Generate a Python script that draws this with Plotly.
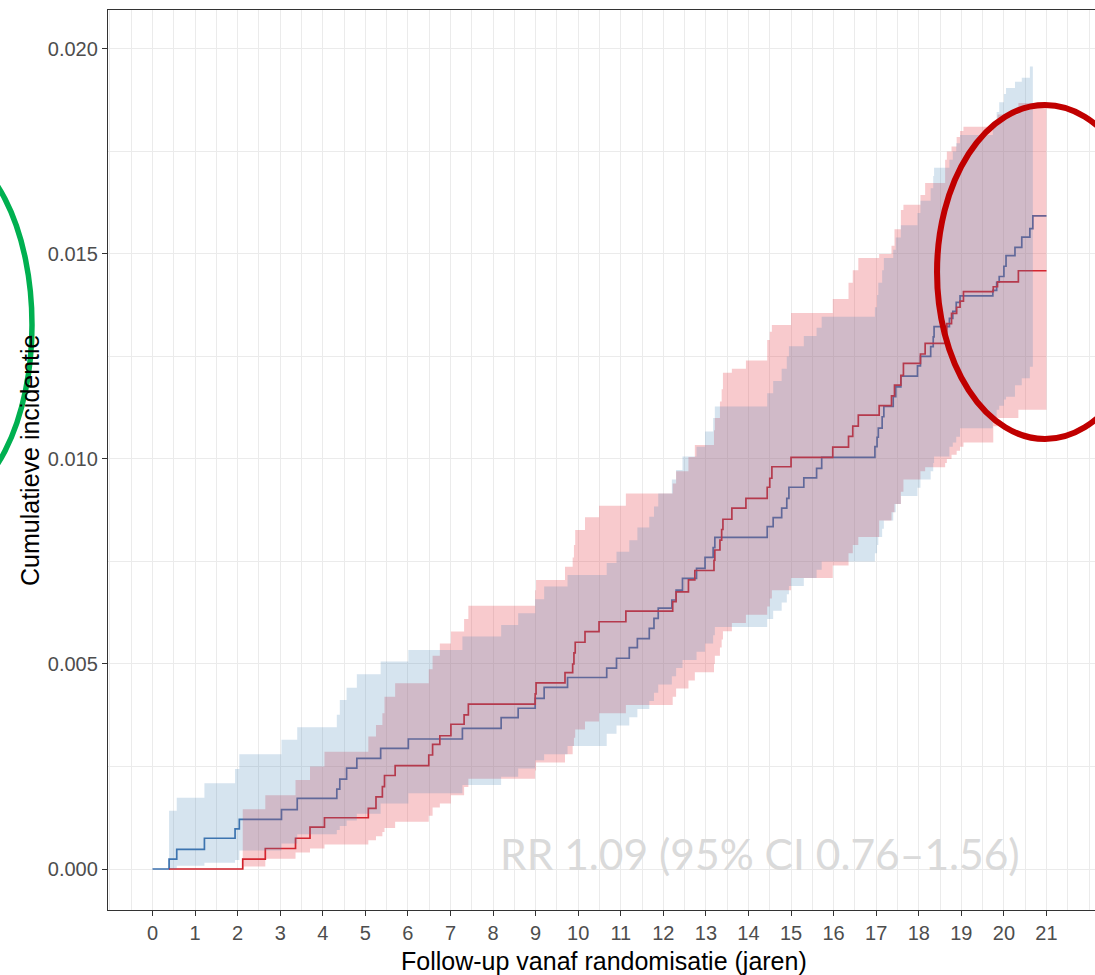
import plotly.graph_objects as go

# ---- blue group: event times, cumulative incidence and 95% band ----
blue_time = [0, 0.39, 0.57, 1.22, 1.94, 2.04, 3.03, 3.40, 4.33, 4.40, 4.56, 4.80, 5.36, 6.01,
             7.28, 8.19, 8.59, 8.99, 9.20, 9.75, 10.67, 10.90, 11.20, 11.39, 11.67, 11.78, 11.88,
             12.20, 12.30, 12.45, 12.78, 12.98, 13.17, 13.21, 14.44, 14.58, 14.78, 14.90, 14.95,
             15.30, 15.60, 15.72, 16.97, 17.02, 17.05, 17.14, 17.18, 17.40, 17.46, 17.58, 17.97,
             18.04, 18.28, 18.34, 18.36, 18.72, 18.80, 18.88, 18.97, 19.74, 19.83, 19.89, 20.00,
             20.05, 20.26, 20.42, 20.61, 20.68]
blue_est = [0, 0.00024, 0.00048, 0.00075, 0.00098, 0.00121, 0.00145, 0.00172, 0.00195, 0.00219,
            0.00246, 0.0027, 0.00294, 0.00317, 0.00343, 0.00369, 0.00392, 0.00416, 0.00443,
            0.00467, 0.0049, 0.00514, 0.0054, 0.00562, 0.00587, 0.00611, 0.00636, 0.00656, 0.0068,
            0.00709, 0.00733, 0.0076, 0.00784, 0.00809, 0.00835, 0.00857, 0.0088, 0.00904, 0.00931,
            0.00954, 0.00977, 0.01004, 0.0103, 0.01053, 0.01075, 0.01103, 0.01128, 0.01152,
            0.01176, 0.01202, 0.01227, 0.0125, 0.01274, 0.01298, 0.01323, 0.01343, 0.0136,
            0.01382, 0.01398, 0.01411, 0.01431, 0.01445, 0.0147, 0.01496, 0.01516, 0.01541,
            0.01562, 0.01593]
blue_upper = [0, 0.00142, 0.00174, 0.00209, 0.00244, 0.0028, 0.00315, 0.00346, 0.00376, 0.00412,
              0.00442, 0.00475, 0.00506, 0.00534, 0.00567, 0.00595, 0.00624, 0.00658, 0.00689,
              0.00717, 0.00746, 0.00774, 0.00802, 0.00833, 0.00859, 0.00884, 0.00916, 0.0095,
              0.00973, 0.01006, 0.0103, 0.01067, 0.011, 0.01128, 0.0116, 0.0119, 0.0122, 0.0125,
              0.01275, 0.013, 0.0132, 0.01347, 0.0137, 0.014, 0.0143, 0.0146, 0.0149, 0.0151,
              0.0154, 0.0157, 0.016, 0.0163, 0.0166, 0.0169, 0.0171, 0.0173, 0.0175, 0.0177,
              0.0179, 0.0181, 0.01846, 0.0187, 0.0189, 0.01905, 0.0192, 0.0193, 0.01957, 0.0198]
blue_lower = [0, 0.0, 0.00008, 0.00015, 0.00022, 0.00045, 0.00062, 0.00085, 0.00095, 0.00105,
              0.00118, 0.00135, 0.0016, 0.00185, 0.00205, 0.00225, 0.00245, 0.00265, 0.0028,
              0.003, 0.0033, 0.0035, 0.0037, 0.0039, 0.0041, 0.0043, 0.0045, 0.0047, 0.0049,
              0.0051, 0.0053, 0.0055, 0.0057, 0.0059, 0.0061, 0.0063, 0.0065, 0.0067, 0.0069,
              0.0071, 0.0073, 0.0075, 0.0077, 0.0079, 0.0081, 0.0083, 0.0085, 0.0087, 0.0089,
              0.0091, 0.0093, 0.0095, 0.0097, 0.0099, 0.01006, 0.0103, 0.0104, 0.01054, 0.01075,
              0.0109, 0.0112, 0.0113, 0.01145, 0.01152, 0.0118, 0.01197, 0.01225, 0.0123]
blue_line_end = 21.0
blue_band_end = 20.68

# ---- red group ----
red_time = [0.39, 2.12, 2.65, 3.36, 3.70, 4.04, 5.07, 5.25, 5.40, 5.45, 5.70, 6.49, 6.58, 6.75,
            7.01, 7.32, 7.42, 8.99, 9.01, 9.69, 9.87, 9.90, 9.93, 10.16, 10.49, 11.12, 12.22,
            12.30, 12.59, 12.74, 13.19, 13.21, 13.33, 13.37, 13.40, 13.61, 13.94, 14.44, 14.50,
            14.55, 15.00, 15.98, 16.35, 16.45, 16.58, 17.07, 17.36, 17.43, 17.58, 17.64, 18.04,
            18.15, 18.62, 18.66, 18.77, 18.89, 18.97, 19.05, 19.75, 19.85, 20.34]
red_est = [0, 0.00024, 0.0005, 0.00075, 0.00102, 0.00125, 0.00148, 0.00176, 0.00201, 0.00228,
           0.00252, 0.00278, 0.00304, 0.00325, 0.00353, 0.00376, 0.00402, 0.00427, 0.00454,
           0.00479, 0.005, 0.00527, 0.00553, 0.00579, 0.00603, 0.00629, 0.00652, 0.00676,
           0.00705, 0.00728, 0.00753, 0.00778, 0.00802, 0.00828, 0.00853, 0.0088, 0.00904,
           0.00931, 0.00953, 0.00981, 0.01004, 0.01029, 0.01055, 0.0108, 0.01107, 0.0113,
           0.01154, 0.0118, 0.01204, 0.01233, 0.01256, 0.01282, 0.01305, 0.0133, 0.01355,
           0.0137, 0.01385, 0.01408, 0.0142, 0.01432, 0.01459]
red_upper = [0, 0.00146, 0.0018, 0.00217, 0.0025, 0.00286, 0.00323, 0.00351, 0.0038, 0.0042,
             0.00453, 0.00487, 0.0052, 0.0055, 0.00579, 0.0061, 0.00642, 0.0068, 0.00705,
             0.00737, 0.0076, 0.0079, 0.00827, 0.00858, 0.00886, 0.00916, 0.0094, 0.0097,
             0.01005, 0.01034, 0.0107, 0.011, 0.0114, 0.0117, 0.0121, 0.0122, 0.0124, 0.0129,
             0.0131, 0.01327, 0.01356, 0.0139, 0.0143, 0.0146, 0.0149, 0.015, 0.0152, 0.0156,
             0.01607, 0.0162, 0.01644, 0.01673, 0.0173, 0.0175, 0.01762, 0.01785, 0.018, 0.0181,
             0.0182, 0.0184, 0.01868]
red_lower = [0, 0.00006, 0.00025, 0.0004, 0.0005, 0.0006, 0.0007, 0.0008, 0.0009, 0.001,
             0.00115, 0.0013, 0.0015, 0.0016, 0.0018, 0.002, 0.0022, 0.0024, 0.0026, 0.0028,
             0.003, 0.0032, 0.0034, 0.0036, 0.0038, 0.004, 0.0042, 0.0044, 0.0046, 0.0048,
             0.005, 0.0052, 0.0054, 0.0056, 0.0058, 0.006, 0.0062, 0.0064, 0.0066, 0.0068,
             0.0071, 0.0074, 0.0077, 0.0079, 0.0081, 0.0085, 0.0087, 0.0089, 0.0092, 0.0095,
             0.0097, 0.0098, 0.0099, 0.01, 0.0101, 0.0102, 0.0103, 0.0104, 0.0108, 0.011, 0.0112]
red_line_end = 21.0
red_band_end = 21.0

x_ticks = list(range(0, 22))
y_ticks = [0.0, 0.005, 0.010, 0.015, 0.020]
y_tick_labels = ["0.000", "0.005", "0.010", "0.015", "0.020"]

x_title = "Follow-up vanaf randomisatie (jaren)"
y_title = "Cumulatieve incidentie"
rr_text = "RR 1.09 (95% CI 0.76\u20131.56)"

BLUE_LINE = "#3b70ae"
RED_LINE = "#cf1f28"
BLUE_FILL = "rgba(70,130,180,0.22)"
RED_FILL = "rgba(228,60,72,0.27)"


def steps(times, values, end):
    """Expand a right-continuous step function into explicit corner points."""
    xs, ys = [], []
    for i, (t, v) in enumerate(zip(times, values)):
        t_next = times[i + 1] if i + 1 < len(times) else end
        xs += [t, t_next]
        ys += [v, v]
    return xs, ys


def band(times, lower, upper, end):
    xu, yu = steps(times, upper, end)
    xl, yl = steps(times, lower, end)
    return xu + xl[::-1], yu + yl[::-1]


fig = go.Figure()

# step curves first, translucent confidence bands on top of them
fig.add_trace(go.Scatter(x=blue_time + [blue_line_end], y=blue_est + [blue_est[-1]],
                         mode="lines", line=dict(color=BLUE_LINE, width=1.7, shape="hv")))
fig.add_trace(go.Scatter(x=red_time + [red_line_end], y=red_est + [red_est[-1]],
                         mode="lines", line=dict(color=RED_LINE, width=1.7, shape="hv")))

rx, ry = band(red_time, red_lower, red_upper, red_band_end)
fig.add_trace(go.Scatter(x=rx, y=ry, fill="toself", fillcolor=RED_FILL,
                         line=dict(width=0), mode="lines", hoverinfo="skip"))
bx, by = band(blue_time, blue_lower, blue_upper, blue_band_end)
fig.add_trace(go.Scatter(x=bx, y=by, fill="toself", fillcolor=BLUE_FILL,
                         line=dict(width=0), mode="lines", hoverinfo="skip"))

W, H = 1095, 975
ML, MR, MT, MB = 108, 0, 10, 65
PW, PH = W - ML - MR, H - MT - MB


def px(xp):
    return (xp - ML) / PW


def py(yp):
    return (H - MB - yp) / PH


GRID = "#ebebeb"
AXIS = "#333333"

fig.update_layout(
    width=W, height=H,
    margin=dict(l=ML, r=MR, t=MT, b=MB, pad=0),
    paper_bgcolor="white", plot_bgcolor="white",
    showlegend=False,
    font=dict(family="Liberation Sans, Arial, sans-serif"),
    xaxis=dict(
        range=[-1.045, 22.14], tickmode="array", tickvals=x_ticks,
        ticktext=[str(v) for v in x_ticks],
        ticks="outside", ticklen=5, tickwidth=1.3, tickcolor=AXIS,
        tickfont=dict(size=20, color="#4d4d4d"),
        showline=True, linecolor=AXIS, linewidth=1.3, mirror=True,
        showgrid=True, gridcolor=GRID, gridwidth=1.3, zeroline=False,
        minor=dict(tickmode="linear", tick0=0, dtick=0.5, showgrid=True,
                   gridcolor=GRID, gridwidth=1.1, ticks=""),
        automargin=False,
    ),
    yaxis=dict(
        range=[-0.001, 0.02095], tickmode="array", tickvals=y_ticks,
        ticktext=y_tick_labels,
        ticks="outside", ticklen=5, tickwidth=1.3, tickcolor=AXIS,
        tickfont=dict(size=20, color="#4d4d4d"),
        showline=True, linecolor=AXIS, linewidth=1.3, mirror=False,
        showgrid=True, gridcolor=GRID, gridwidth=1.3, zeroline=False,
        minor=dict(tickmode="linear", tick0=0, dtick=0.0025, showgrid=True,
                   gridcolor=GRID, gridwidth=1.1, ticks=""),
        automargin=False,
    ),
    annotations=[
        dict(text=x_title, xref="paper", yref="paper", x=px(604), y=py(961),
             xanchor="center", yanchor="middle", showarrow=False,
             font=dict(size=25, color="black")),
        dict(text=y_title, xref="paper", yref="paper", x=px(30), y=py(460),
             xanchor="center", yanchor="middle", showarrow=False, textangle=-90,
             font=dict(size=25, color="black")),
        dict(text=rr_text, xref="paper", yref="paper", x=px(498), y=py(853),
             xanchor="left", yanchor="middle", showarrow=False,
             font=dict(family="Lato, sans-serif", size=42.5, color="#dadada")),
    ],
    shapes=[
        dict(type="circle", xref="paper", yref="paper",
             x0=px(-152), x1=px(32), y0=py(503), y1=py(147),
             line=dict(color="#00b050", width=5.5), layer="above"),
        dict(type="circle", xref="paper", yref="paper",
             x0=px(937), x1=px(1153), y0=py(439), y1=py(105),
             line=dict(color="#c00000", width=6), layer="above"),
    ],
)

fig.write_html("out.html", config={"displayModeBar": False})
